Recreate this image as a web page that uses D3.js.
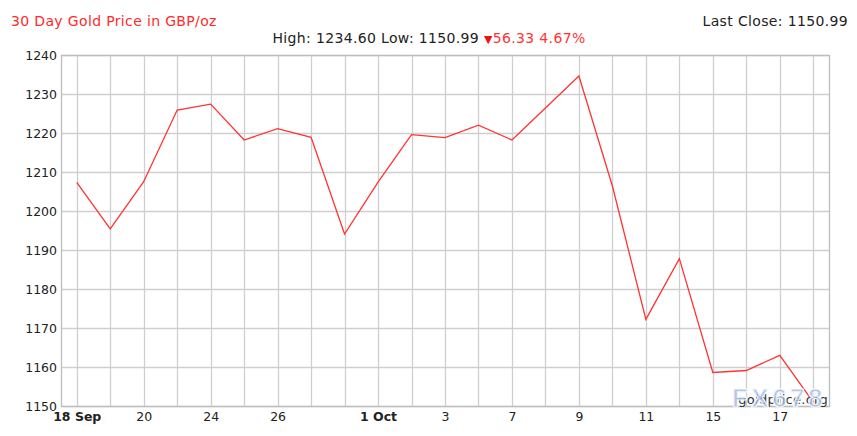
<!DOCTYPE html>
<html><head><meta charset="utf-8">
<script src="https://cdn.jsdelivr.net/npm/d3@7/dist/d3.min.js"></script>
<style>
html,body{margin:0;padding:0;background:#fff;}
svg{display:block;font-family:"DejaVu Sans",Verdana,sans-serif;}
</style></head>
<body><svg id="c" width="857" height="436"></svg>
<script>
// ---- data ----
const dates = ["18 Sep","19 Sep","20 Sep","23 Sep","24 Sep","25 Sep","26 Sep","27 Sep","30 Sep","1 Oct","2 Oct","3 Oct","4 Oct","7 Oct","8 Oct","9 Oct","10 Oct","11 Oct","14 Oct","15 Oct","16 Oct","17 Oct","18 Oct"];
const prices = [1207.32,1195.4,1207.5,1225.9,1227.4,1218.2,1221.1,1218.9,1194.1,1207.4,1219.6,1218.8,1222.0,1218.2,1226.4,1234.60,1206.4,1172.2,1187.8,1158.6,1159.1,1163.0,1150.99];
const tickIdx = [0,2,4,6,9,11,13,15,17,19,21];
const tickLabels = ["18 Sep","20","24","26","1 Oct","3","7","9","11","15","17"];
const boldTicks = ["18 Sep","1 Oct"];
const yTicks = [1150,1160,1170,1180,1190,1200,1210,1220,1230,1240];
const title = "30 Day Gold Price in GBP/oz";
const lastClose = "Last Close: 1150.99";
const highLow = "High: 1234.60 Low: 1150.99";
const change = "56.33 4.67%";

// ---- layout ----
const L = 61, R = 829, T = 55, B = 406;
const svg = d3.select("#c");
const x = d3.scalePoint().domain(d3.range(prices.length)).range([L, R]).padding(0.47);
const y = d3.scaleLinear().domain([1150, 1240]).range([B, T]);
const red = "#ff3333", grid = "#cfcfcf", txt = "#222";

// grid
svg.append("g").selectAll("line.h").data(yTicks).join("line")
  .attr("x1", L).attr("x2", R).attr("y1", d => Math.round(y(d)) + 0.5).attr("y2", d => Math.round(y(d)) + 0.5)
  .attr("stroke", grid).attr("stroke-width", 1.3);
svg.append("g").selectAll("line.v").data(d3.range(prices.length)).join("line")
  .attr("x1", d => Math.round(x(d)) + 0.5).attr("x2", d => Math.round(x(d)) + 0.5).attr("y1", T).attr("y2", B)
  .attr("stroke", grid).attr("stroke-width", 1.3);
// border
svg.append("rect").attr("x", L + 0.5).attr("y", T + 0.5).attr("width", R - L).attr("height", B - T)
  .attr("fill", "none").attr("stroke", "#bdbdbd").attr("stroke-width", 1.3);

// y axis labels
const ya = svg.append("g").attr("transform", `translate(${L},0)`)
  .call(d3.axisLeft(y).tickValues(yTicks).tickSize(0).tickPadding(4).tickFormat(d3.format("d")));
ya.select(".domain").remove();
ya.selectAll("text").attr("font-size", 12.5).attr("fill", txt).attr("font-family", "DejaVu Sans").attr("dy", "0.35em");

// x axis labels
const xa = svg.append("g").attr("transform", `translate(0,${B})`)
  .call(d3.axisBottom(x).tickValues(tickIdx).tickSize(0).tickPadding(6).tickFormat((d, i) => tickLabels[tickIdx.indexOf(d)]));
xa.select(".domain").remove();
xa.selectAll("text").attr("font-size", 12.5).attr("fill", txt).attr("font-family", "DejaVu Sans")
  .attr("font-weight", d => boldTicks.includes(tickLabels[tickIdx.indexOf(d)]) ? "bold" : "normal");

// line
svg.append("path").datum(prices)
  .attr("d", d3.line().x((d, i) => x(i)).y(d => y(d)))
  .attr("fill", "none").attr("stroke", red).attr("stroke-width", 1.3);

// header texts
svg.append("text").attr("x", 11).attr("y", 26).attr("fill", "#ff2a2a").attr("font-size", 14).attr("letter-spacing", 0.35).text(title);
svg.append("text").attr("x", 848).attr("y", 26).attr("text-anchor", "end").attr("fill", txt).attr("font-size", 14).attr("letter-spacing", 0.35).text(lastClose);
const hl = svg.append("text").attr("x", 429).attr("y", 43).attr("text-anchor", "middle").attr("font-size", 14).attr("letter-spacing", 0.35);
hl.append("tspan").attr("fill", txt).text(highLow + " ");
hl.append("tspan").attr("fill", "#ee1111").attr("font-size", 11).text("\u25BC");
hl.append("tspan").attr("fill", "#ff3333").text(change);

// watermarks
svg.append("text").attr("x", 828).attr("y", 404).attr("text-anchor", "end").attr("font-size", 13).attr("letter-spacing", 0.3).attr("fill", "#333").text("goldprice.org");
svg.append("text").attr("x", 779).attr("y", 407).attr("text-anchor", "middle").attr("font-size", 26).attr("font-weight", "bold")
  .attr("font-family", "Arial, 'Liberation Sans', sans-serif")
  .attr("fill", "#9db7de").attr("fill-opacity", 0.8).attr("stroke", "#f4f7fc").attr("stroke-width", 1.2)
  .attr("letter-spacing", 3.5).text("FX678");
</script></body></html>
